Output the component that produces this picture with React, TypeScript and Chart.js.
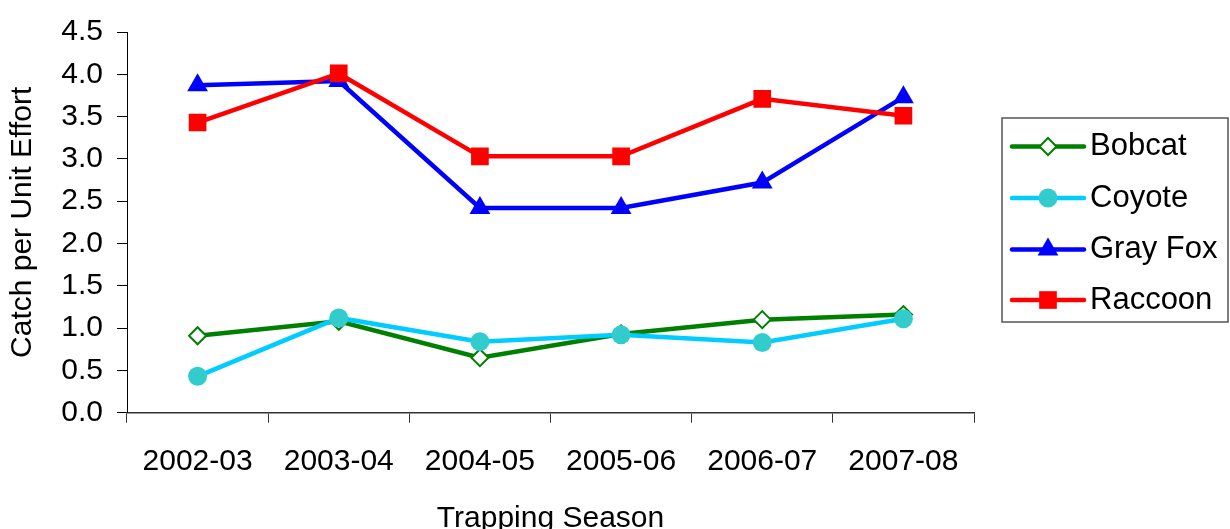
import React, { useEffect, useRef } from "react";
import { Chart, registerables } from "chart.js";

Chart.register(...registerables);

const seasons = ["2002-03", "2003-04", "2004-05", "2005-06", "2006-07", "2007-08"];
const bobcat = [0.91, 1.08, 0.65, 0.93, 1.1, 1.16];
const coyote = [0.43, 1.12, 0.84, 0.92, 0.83, 1.11];
const grayFox = [3.87, 3.92, 2.42, 2.42, 2.72, 3.73];
const raccoon = [3.43, 4.01, 3.03, 3.03, 3.71, 3.51];
const seriesNames = ["Bobcat", "Coyote", "Gray Fox", "Raccoon"];

const FONT = "'Liberation Sans', Arial, sans-serif";

type Sty = { line: string; fill: string; stroke: string; style: string; r: number; bw: number };
const styles: Sty[] = [
  { line: "#008000", fill: "#FFFFFF", stroke: "#008000", style: "rectRot", r: 8.5, bw: 2 },
  { line: "#00CCFF", fill: "#33CCCC", stroke: "#33CCCC", style: "circle", r: 9.5, bw: 0 },
  { line: "#0000FF", fill: "#0000FF", stroke: "#0000FF", style: "triangle", r: 12, bw: 0 },
  { line: "#FF0000", fill: "#FF0000", stroke: "#FF0000", style: "rect", r: 12.5, bw: 0 },
];

function drawMarker(ctx: CanvasRenderingContext2D, s: Sty, x: number, y: number) {
  ctx.save();
  ctx.beginPath();
  const r = s.r;
  if (s.style === "circle") {
    ctx.arc(x, y, r, 0, Math.PI * 2);
  } else if (s.style === "rect") {
    const h = Math.SQRT1_2 * r;
    ctx.rect(x - h, y - h, 2 * h, 2 * h);
  } else if (s.style === "rectRot") {
    ctx.moveTo(x, y - r);
    ctx.lineTo(x + r, y);
    ctx.lineTo(x, y + r);
    ctx.lineTo(x - r, y);
    ctx.closePath();
  } else if (s.style === "triangle") {
    let a = 0;
    ctx.moveTo(x + Math.sin(a) * r, y - Math.cos(a) * r);
    a += (2 * Math.PI) / 3;
    ctx.lineTo(x + Math.sin(a) * r, y - Math.cos(a) * r);
    a += (2 * Math.PI) / 3;
    ctx.lineTo(x + Math.sin(a) * r, y - Math.cos(a) * r);
    ctx.closePath();
  }
  ctx.fillStyle = s.fill;
  ctx.fill();
  if (s.bw > 0) {
    ctx.lineWidth = s.bw;
    ctx.strokeStyle = s.stroke;
    ctx.stroke();
  }
  ctx.restore();
}

const legendPlugin = {
  id: "boxLegend",
  afterDraw(chart: any) {
    const ctx: CanvasRenderingContext2D = chart.ctx;
    const left = 1002, top = 118, right = 1228, bottom = 322;
    ctx.save();
    ctx.fillStyle = "#FFFFFF";
    ctx.fillRect(left, top, right - left, bottom - top);
    ctx.strokeStyle = "#555555";
    ctx.lineWidth = 1.5;
    ctx.strokeRect(left, top, right - left, bottom - top);
    const ys = [146.5, 198, 249.5, 300];
    seriesNames.forEach((name, i) => {
      const s = styles[i];
      const y = ys[i];
      ctx.beginPath();
      ctx.moveTo(1012, y);
      ctx.lineTo(1084, y);
      ctx.lineWidth = 4.5;
      ctx.strokeStyle = s.line;
      ctx.lineCap = "round";
      ctx.stroke();
      drawMarker(ctx, s, 1048, y);
      ctx.fillStyle = "#000000";
      ctx.font = `31px ${FONT}`;
      ctx.textAlign = "left";
      ctx.textBaseline = "middle";
      ctx.fillText(name, 1090, y);
    });
    ctx.restore();
  },
};

export default function App() {
  const ref = useRef<HTMLCanvasElement>(null);
  useEffect(() => {
    document.body.style.margin = "0";
    const values = [bobcat, coyote, grayFox, raccoon];
    const chart = new Chart(ref.current as HTMLCanvasElement, {
      type: "line",
      data: {
        labels: seasons,
        datasets: values.map((v, i) => ({
          label: seriesNames[i],
          data: v,
          borderColor: styles[i].line,
          backgroundColor: styles[i].fill,
          borderWidth: 4.5,
          pointStyle: styles[i].style as any,
          pointRadius: styles[i].r,
          pointBackgroundColor: styles[i].fill,
          pointBorderColor: styles[i].stroke,
          pointBorderWidth: styles[i].bw,
          tension: 0,
          fill: false,
          order: 3 - i,
        })),
      },
      options: {
        responsive: false,
        animation: false,
        layout: { padding: { left: 0, top: 27.7, right: 256, bottom: 0 } },
        plugins: { legend: { display: false }, tooltip: { enabled: false } },
        scales: {
          x: {
            offset: true,
            grid: { offset: true, drawOnChartArea: false, drawTicks: true, tickLength: 10, color: "#333333", lineWidth: 1 },
            border: { display: true, color: "#333333", width: 1.5 },
            ticks: { font: { family: FONT, size: 30 }, color: "#000000", padding: 21, maxRotation: 0, autoSkip: false },
            title: { display: true, text: "Trapping Season", font: { family: FONT, size: 30, lineHeight: 1 }, color: "#000000", padding: { top: 0, bottom: -5 } },
            afterFit: (scale: any) => { scale.height = 116.3; },
          },
          y: {
            min: 0,
            max: 4.5,
            grid: { drawOnChartArea: false, drawTicks: true, tickLength: 10, color: "#000000", lineWidth: 1 },
            border: { display: true, color: "#000000", width: 1 },
            ticks: { stepSize: 0.5, font: { family: FONT, size: 30 }, color: "#000000", padding: 14, callback: (v: any) => Number(v).toFixed(1) },
            title: { display: true, text: "Catch per Unit Effort", font: { family: FONT, size: 30, lineHeight: 1 }, color: "#000000", padding: { top: 7.5, bottom: 0 } },
            afterFit: (scale: any) => { scale.width = 127; },
          },
        },
      },
      plugins: [legendPlugin],
    });
    return () => chart.destroy();
  }, []);
  return (
    <div style={{ width: 1230, height: 529 }}>
      <canvas ref={ref} width={1230} height={529} />
    </div>
  );
}
